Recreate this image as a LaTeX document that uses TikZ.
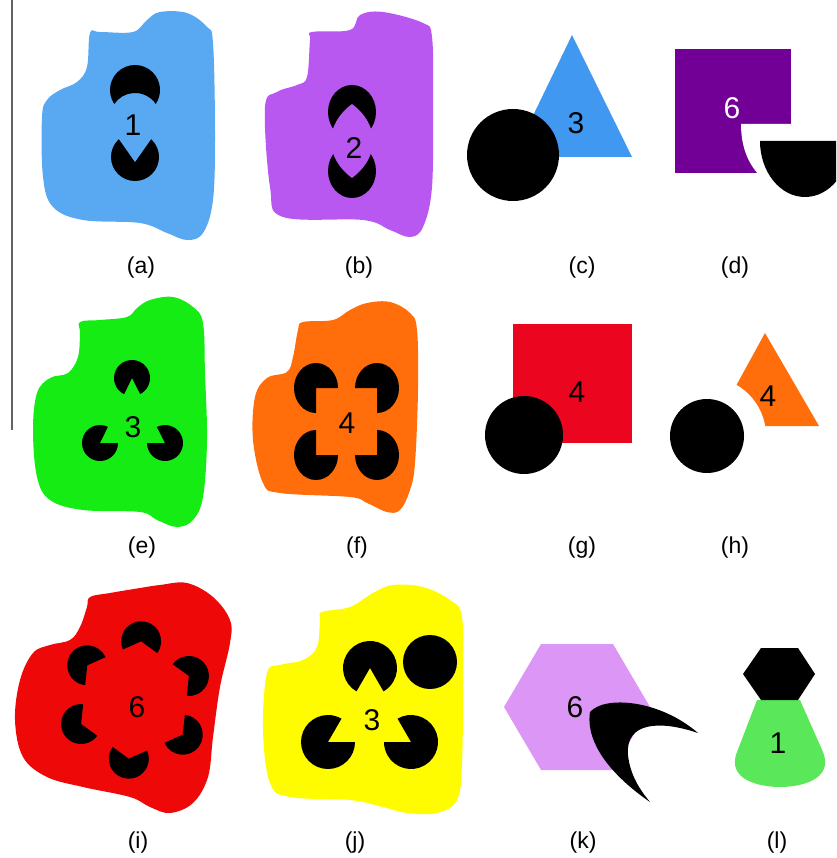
\documentclass[tikz,border=0pt]{standalone}
\usepackage{fontspec}
\setmainfont{Liberation Sans}
\usepackage{tikz}
\usepackage{xcolor}
\definecolor{skyblob}{RGB}{88,168,242}
\definecolor{violetblob}{RGB}{185,88,240}
\definecolor{triblue}{RGB}{64,152,240}
\definecolor{deepplum}{RGB}{115,0,150}
\definecolor{limeblob}{RGB}{20,236,20}
\definecolor{tangerine}{RGB}{255,110,10}
\definecolor{scarlet}{RGB}{235,5,30}
\definecolor{redblob}{RGB}{238,8,8}
\definecolor{lemon}{RGB}{255,252,0}
\definecolor{lilac}{RGB}{220,150,245}
\definecolor{mint}{RGB}{90,232,90}
\definecolor{rulegray}{RGB}{100,100,100}

\begin{document}
\begin{tikzpicture}[x=1pt, y=-1pt,
  sublabel/.style={font=\fontsize{23}{23}\selectfont, inner sep=0pt},
  digit/.style={font=\fontsize{30}{30}\selectfont, inner sep=0pt}]
  \useasboundingbox (0,0) rectangle (836,858);
  \clip (0,0) rectangle (836,858);

  % left rule
  \draw[rulegray, line width=1.2pt] (12,0) -- (12,430);

  % (a) blue blob, crescent over wedge
  \fill[skyblob] plot[smooth cycle, tension=0.6] coordinates {(90,33) (100,32) (133,32) (147,20) (160,12) (187,13) (207,27) (213,43) (215,133) (213,200) (203,233) (187,240) (167,233) (140,223) (83,220) (53,207) (43,177) (42,117) (47,100) (60,90) (77,82) (87,67)};
  \fill (135,90) ++(146:25) arc[start angle=146, end angle=394, radius=25] arc[start angle=-34, end angle=-146, radius=25] -- cycle;
  \fill (135,157) circle (24);
  \fill[skyblob] (135,162) -- (109,125) -- (161,125) -- cycle;
  \node[digit] (num-a) at (133,125) {1};

  % (b) violet blob, two discs with a lens
  \fill[violetblob] plot[smooth cycle, tension=0.6] coordinates {(312,32) (350,30) (360,15) (383,12) (423,23) (432,37) (433,100) (432,187) (423,227) (410,237) (390,230) (363,220) (283,217) (270,187) (265,107) (277,92) (297,85) (307,77) (310,40)};
  \fill (352,112) ellipse [x radius=24, y radius=27];
  \fill (352,171) ellipse [x radius=24, y radius=27];
  \fill[violetblob] (352,104) .. controls (324,125) and (324,157) .. (352,178) .. controls (380,157) and (380,125) .. (352,104);
  \node[digit] (num-b) at (354,148) {2};

  % (c) triangle behind a disc
  \fill[triblue] (572,35) -- (632,157) -- (513,157) -- cycle;
  \fill (513,155) circle (46);
  \node[digit] (num-c) at (576,123) {3};

  % (d) square with a bite, half disc
  \fill[deepplum] (675,49) rectangle (791,173);
  \fill[white] (741,124) .. controls (741,145) and (747,162) .. (759,175) -- (795,175) -- (795,124) -- cycle;
  \fill (760,141) arc[start angle=180, end angle=0, x radius=45, y radius=56] -- cycle;
  \node[digit, white] (num-d) at (732,108) {6};

  % (e) green blob, three pacmen
  \fill[limeblob] plot[smooth cycle, tension=0.6] coordinates {(80,322) (100,320) (127,317) (137,308) (150,300) (173,297) (193,307) (203,323) (205,373) (207,440) (203,497) (193,520) (177,527) (157,520) (140,512) (83,510) (50,500) (37,477) (33,430) (37,393) (50,378) (68,373) (78,357) (80,333)};
  \fill (132,378) -- ++(116:18) arc[start angle=116, end angle=423, radius=18] -- cycle;
  \fill (100,443) -- ++(0:18) arc[start angle=0, end angle=296, radius=18] -- cycle;
  \fill (165,443) -- ++(243:18) arc[start angle=243, end angle=540, radius=18] -- cycle;
  \node[digit] (num-e) at (133,427) {3};

  % (f) orange blob, four pacmen
  \fill[tangerine] plot[smooth cycle, tension=0.6] coordinates {(303,322) (333,320) (350,310) (367,303) (390,302) (410,313) (417,330) (418,390) (415,463) (410,490) (400,510) (387,512) (367,503) (350,497) (280,493) (263,483) (253,440) (255,397) (267,378) (287,372) (293,357) (298,330)};
  \fill (316,388) -- ++(90:22 and 25) arc[start angle=90, end angle=360, x radius=22, y radius=25] -- cycle;
  \fill (377,388) -- ++(180:22 and 25) arc[start angle=180, end angle=450, x radius=22, y radius=25] -- cycle;
  \fill (316,455) -- ++(0:22 and 25) arc[start angle=0, end angle=270, x radius=22, y radius=25] -- cycle;
  \fill (377,455) -- ++(270:22 and 25) arc[start angle=270, end angle=540, x radius=22, y radius=25] -- cycle;
  \node[digit] (num-f) at (347,423) {4};

  % (g) square behind a disc
  \fill[scarlet] (513,324) rectangle (632,443);
  \fill (524,435) circle (39);
  \node[digit] (num-g) at (577,392) {4};

  % (h) triangle with a gap round the disc
  \fill[tangerine] (765,333) -- (819,426) -- (714,426) -- cycle;
  \fill[white] (707,436) circle (59);
  \fill (707,436) circle (37);
  \node[digit] (num-h) at (768,396) {4};

  % (i) red blob, six pacmen
  \fill[redblob] plot[smooth cycle, tension=0.6] coordinates {(90,597) (110,593) (140,588) (160,585) (187,583) (213,597) (230,620) (230,643) (220,687) (213,737) (208,777) (193,803) (170,813) (150,807) (130,797) (83,787) (47,777) (23,757) (15,720) (20,680) (33,653) (50,645) (70,640) (80,627) (87,607)};
  \foreach \t in {36,96,...,336}
    \fill[shift={(135,700)}] (\t:59) -- ++(\t+240:20) arc[start angle=\t+240, end angle=\t+480, radius=20] -- cycle;
  \node[digit] (num-i) at (137,707) {6};

  % (j) yellow blob, three pacmen and a disc
  \fill[lemon] plot[smooth cycle, tension=0.6] coordinates {(322,612) (350,607) (373,593) (393,585) (423,587) (450,600) (462,617) (463,680) (462,763) (457,800) (437,813) (407,813) (383,807) (350,800) (290,797) (270,783) (263,730) (267,673) (280,665) (303,660) (317,647) (320,620)};
  \fill (370,668) -- ++(120:27) arc[start angle=120, end angle=420, radius=27] -- cycle;
  \fill (328,742) -- ++(0:27) arc[start angle=0, end angle=300, radius=27] -- cycle;
  \fill (411,742) -- ++(240:27) arc[start angle=240, end angle=540, radius=27] -- cycle;
  \fill (430,662) circle (27);
  \node[digit] (num-j) at (372,720) {3};

  % (k) hexagon and a hook
  \fill[lilac] (650,707) -- (613,770) -- (541,770) -- (504,707) -- (541,644) -- (613,644) -- cycle;
  \node[digit] (num-k) at (575,707) {6};
  \fill (590,712) .. controls (605,695) and (660,700) .. (698,733) .. controls (660,720) and (625,722) .. (628,755) .. controls (630,775) and (640,790) .. (650,802) .. controls (615,778) and (585,745) .. (590,712) -- cycle;

  % (l) hexagon on a bell
  \fill[mint] (757,700) -- (737,752) .. controls (726,780) and (760,787) .. (780,787) .. controls (800,787) and (834,780) .. (823,752) -- (800,700) -- cycle;
  \fill (743,674) -- (761,648) -- (798,648) -- (815,674) -- (798,700) -- (761,700) -- cycle;
  \node[digit] (num-l) at (778,743) {1};

  % panel letters
  \node[sublabel] (lab-a) at (141,268) {(a)};
  \node[sublabel] (lab-b) at (359,268) {(b)};
  \node[sublabel] (lab-c) at (582,268) {(c)};
  \node[sublabel] (lab-d) at (735,268) {(d)};
  \node[sublabel] (lab-e) at (142,548) {(e)};
  \node[sublabel] (lab-f) at (357,548) {(f)};
  \node[sublabel] (lab-g) at (582,548) {(g)};
  \node[sublabel] (lab-h) at (735,548) {(h)};
  \node[sublabel] (lab-i) at (138,843) {(i)};
  \node[sublabel] (lab-j) at (355,843) {(j)};
  \node[sublabel] (lab-k) at (583,843) {(k)};
  \node[sublabel] (lab-l) at (777,843) {(l)};
\end{tikzpicture}
\end{document}
